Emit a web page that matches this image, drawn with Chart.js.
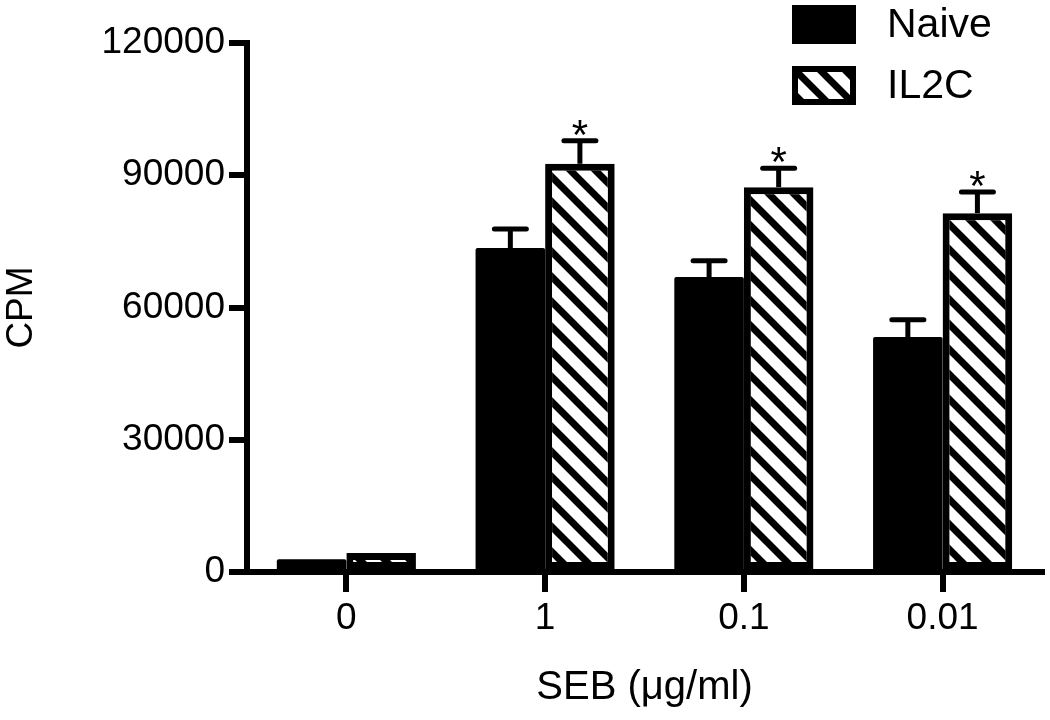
<!DOCTYPE html>
<html>
<head>
<meta charset="utf-8">
<script src="https://cdn.jsdelivr.net/npm/chart.js@4/dist/chart.umd.min.js"></script>
<style>
  body { margin: 0; background: #fff; }
  #wrap { width: 1050px; height: 720px; }
</style>
</head>
<body>
<div id="wrap"><canvas id="chartCpm" width="1050" height="720"></canvas></div>
<script>
const categories = ["0", "1", "0.1", "0.01"];
const naiveValues = [2900, 73500, 66900, 53300];
const naiveErrors = [0, 4300, 3700, 3900];
const il2cValues = [4300, 92600, 87300, 81400];
const il2cErrors = [0, 5200, 4300, 4800];
const il2cMarks = ["", "*", "*", "*"];
const yTicks = [0, 30000, 60000, 90000, 120000];

const FONT = "'Liberation Sans', Arial, Helvetica, sans-serif";

function makeHatch() {
    const size = 25;
    const c = document.createElement("canvas");
    c.width = size;
    c.height = size;
    const g = c.getContext("2d");
    g.fillStyle = "#fff";
    g.fillRect(0, 0, size, size);
    g.strokeStyle = "#000";
    g.lineWidth = 7;
    g.beginPath();
    [-size, 0, size].forEach(function (off) {
        g.moveTo(off - 3, -3);
        g.lineTo(off + size + 3, size + 3);
    });
    g.stroke();
    return g.createPattern(c, "repeat");
}

// error bars (upward only) + significance marks
const errorBars = {
    id: "errorBars",
    afterDatasetsDraw(chart) {
        const ctx = chart.ctx;
        const ys = chart.scales.y;
        chart.data.datasets.forEach(function (ds, i) {
            const meta = chart.getDatasetMeta(i);
            meta.data.forEach(function (bar, j) {
                const err = ds.errors[j];
                if (!err) return;
                const top = ys.getPixelForValue(ds.data[j] + err);
                ctx.save();
                ctx.strokeStyle = "#000";
                ctx.lineWidth = 5;
                ctx.beginPath();
                ctx.moveTo(bar.x, bar.y);
                ctx.lineTo(bar.x, top);
                ctx.stroke();
                ctx.lineCap = "round";
                ctx.beginPath();
                ctx.moveTo(bar.x - 16, top);
                ctx.lineTo(bar.x + 16, top);
                ctx.stroke();
                if (ds.marks && ds.marks[j]) {
                    ctx.fillStyle = "#000";
                    ctx.font = "42px " + FONT;
                    ctx.textAlign = "center";
                    ctx.textBaseline = "alphabetic";
                    ctx.fillText(ds.marks[j], bar.x, top + 8);
                }
                ctx.restore();
            });
        });
    }
};

const boxLegend = {
    id: "boxLegend",
    afterDraw(chart) {
        const ctx = chart.ctx;
        chart.data.datasets.forEach(function (ds, i) {
            const x = 792, y = 5 + i * 61, w = 64, h = 39;
            ctx.save();
            ctx.fillStyle = ds.backgroundColor;
            ctx.fillRect(x, y, w, h);
            if (ds.borderWidth) {
                ctx.strokeStyle = "#000";
                ctx.lineWidth = 6;
                ctx.strokeRect(x + 3, y + 3, w - 6, h - 6);
            }
            ctx.fillStyle = "#000";
            ctx.font = "41px " + FONT;
            ctx.textAlign = "left";
            ctx.textBaseline = "middle";
            ctx.fillText(ds.label, 887, y + h / 2 + 1);
            ctx.restore();
        });
    }
};

const canvas = document.getElementById("chartCpm");

new Chart(canvas, {
    type: "bar",
    data: {
        labels: categories,
        datasets: [{
            label: "Naive",
            data: naiveValues,
            errors: naiveErrors,
            backgroundColor: "#000",
            borderWidth: 0,
            borderRadius: 2,
            categoryPercentage: 0.7,
            barPercentage: 1.0
        }, {
            label: "IL2C",
            data: il2cValues,
            errors: il2cErrors,
            marks: il2cMarks,
            backgroundColor: makeHatch(),
            borderColor: "#000",
            borderWidth: 7,
            borderSkipped: false,
            categoryPercentage: 0.7,
            barPercentage: 1.0
        }]
    },
    options: {
        responsive: false,
        animation: false,
        layout: { padding: { top: 43, right: 8, left: 0, bottom: 0 } },
        plugins: {
            legend: { display: false },
            tooltip: { enabled: false }
        },
        scales: {
            x: {
                offset: true,
                grid: {
                    offset: false,
                    drawOnChartArea: false,
                    drawTicks: true,
                    tickLength: 20,
                    lineWidth: 6,
                    color: "#000"
                },
                border: { display: true, width: 6, color: "#000" },
                ticks: {
                    color: "#000",
                    padding: 5,
                    maxRotation: 0,
                    font: { family: FONT, size: 37 }
                },
                title: {
                    display: true,
                    text: "SEB (μg/ml)",
                    color: "#000",
                    padding: { top: 0, bottom: 8 },
                    font: { family: FONT, size: 40 }
                },
                afterFit(scale) { scale.height = 148; }
            },
            y: {
                min: yTicks[0],
                max: yTicks[yTicks.length - 1],
                afterBuildTicks(scale) {
                    scale.ticks = yTicks.map(function (v) { return { value: v }; });
                },
                grid: {
                    drawOnChartArea: false,
                    drawTicks: true,
                    tickLength: 18,
                    lineWidth: 6,
                    color: "#000"
                },
                border: { display: true, width: 6, color: "#000" },
                ticks: {
                    color: "#000",
                    padding: 4,
                    font: { family: FONT, size: 37 },
                    callback: function (v) { return String(v); }
                },
                title: {
                    display: true,
                    text: "CPM",
                    color: "#000",
                    padding: { top: 0, bottom: 0 },
                    font: { family: FONT, size: 37 }
                },
                afterFit(scale) { scale.width = 247; }
            }
        }
    },
    plugins: [errorBars, boxLegend]
});
</script>
</body>
</html>
